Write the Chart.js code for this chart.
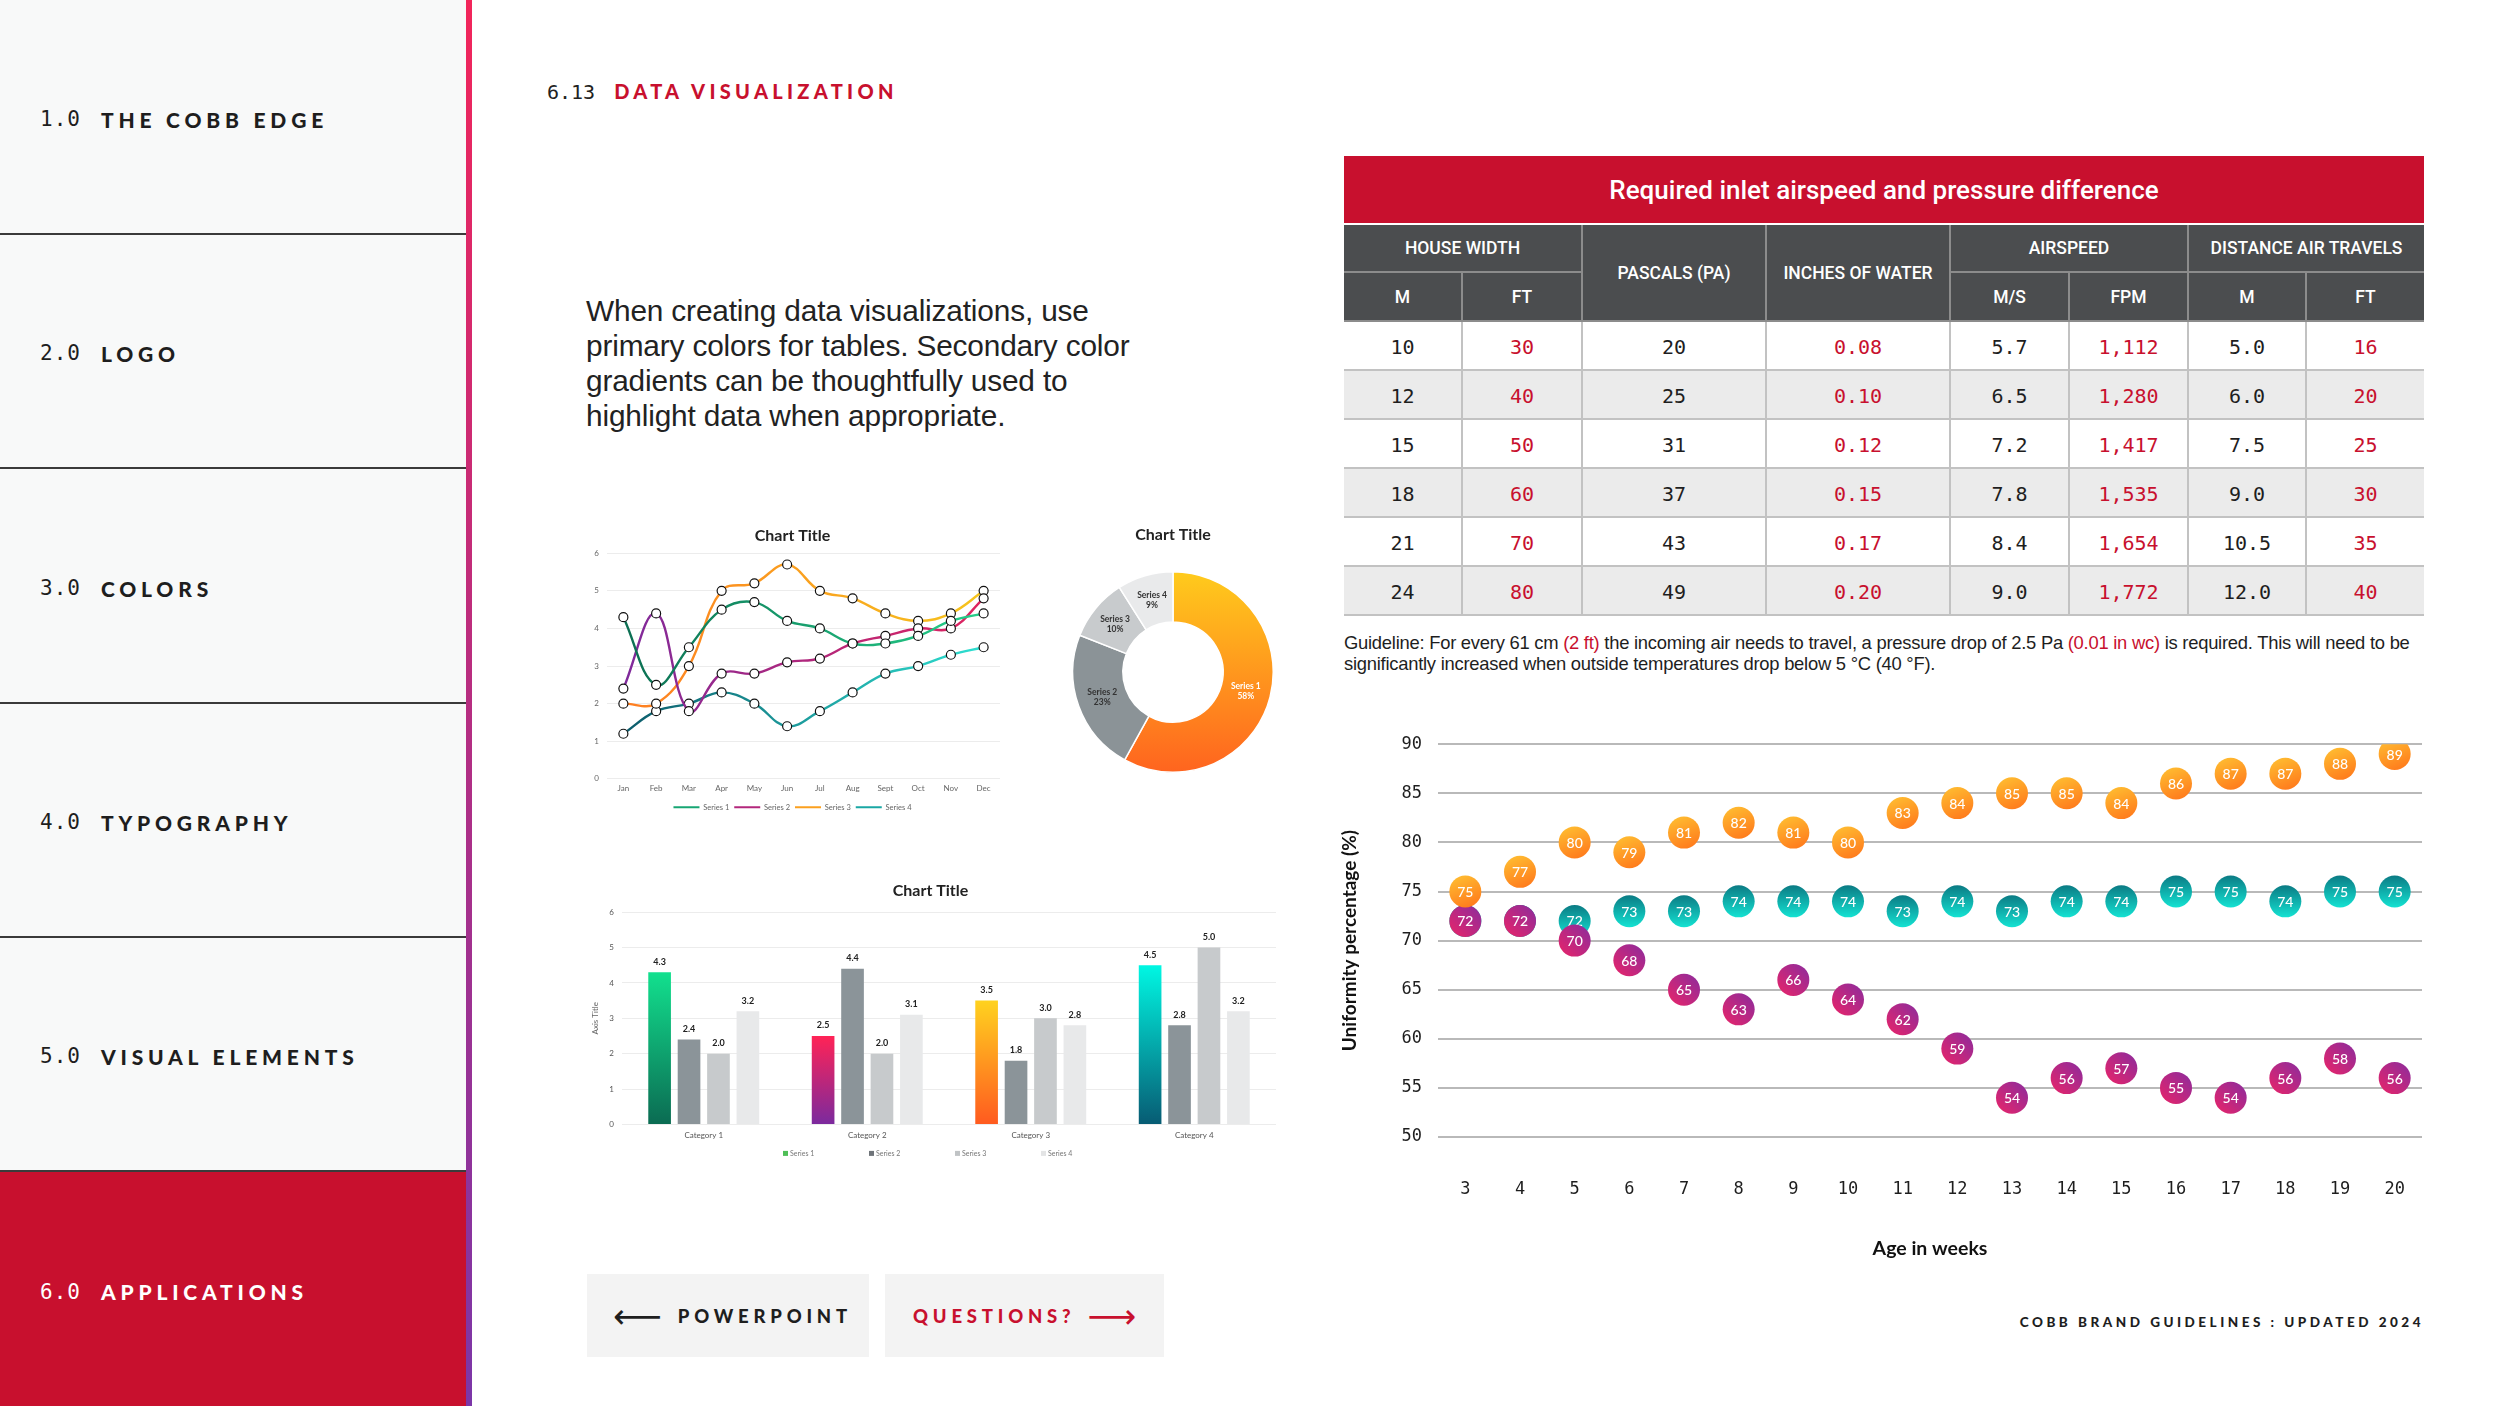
<!DOCTYPE html>
<html lang="en">
<head>
<meta charset="UTF-8">
<title>COBB - 6.13 Data Visualization</title>
<script src="https://cdn.jsdelivr.net/npm/chart.js"></script>
<style>
    body { margin: 0; width: 2500px; height: 1406px; position: relative; overflow: hidden; background: #fff; color: #222; font-family: "Liberation Sans", Arial, sans-serif; }
    .side { position: absolute; left: 0; top: 0; width: 466px; height: 1406px; background: #f8f9f9; }
    .item { position: absolute; left: 0; width: 466px; height: 235px; box-sizing: border-box; border-bottom: 2px solid #3b3b3b; display: flex; align-items: center; padding-left: 40px; padding-top: 5px; font-size: 21px; color: #1e1e1e; }
    .item.active { background: #c8102e; color: #fff; border-bottom: none; }
    .num { font-family: "DejaVu Sans Mono", monospace; letter-spacing: 1px; margin-right: 20px; }
    .lbl { font-family: Lato, sans-serif; font-weight: 900; letter-spacing: 4.8px; }
    .accent { position: absolute; left: 466px; top: 0; width: 6px; height: 1406px; background: linear-gradient(#f2255a, #7b36a8); }
    .head { position: absolute; left: 547px; top: 79px; font-size: 20px; white-space: nowrap; }
    .head .n { font-family: "DejaVu Sans Mono", monospace; color: #222; margin-right: 19px; }
    .head .t { font-family: Lato, sans-serif; font-weight: 900; color: #c8102e; letter-spacing: 4.3px; }
    .intro { position: absolute; left: 586px; top: 293px; font-size: 29.8px; line-height: 35px; color: #222; white-space: nowrap; letter-spacing: -0.15px; }
    .box { position: absolute; }
    .btn { position: absolute; top: 1274px; height: 83px; background: #f3f3f3; display: flex; align-items: center; font-family: Lato, sans-serif; font-weight: 900; font-size: 18.5px; letter-spacing: 4.8px; white-space: nowrap; }
    .arrow { font-family: "DejaVu Sans", sans-serif; font-weight: normal; font-size: 34px; letter-spacing: 0; line-height: 1; }
    .foot { position: absolute; right: 76px; top: 1314px; font-family: Lato, sans-serif; font-weight: 900; font-size: 13.5px; letter-spacing: 3.5px; color: #1e1e1e; white-space: nowrap; }
    .tabtitle { position: absolute; left: 1344px; top: 156px; width: 1080px; height: 67px; background: #c8102e; color: #fff; font-family: Roboto, sans-serif; font-weight: 500; font-size: 26px; display: flex; align-items: center; justify-content: center; }
    #airTable { position: absolute; left: 1344px; top: 225px; width: 1080px; border-collapse: collapse; table-layout: fixed; }
    #airTable th { background: #4b4d4f; color: #fff; font-family: Roboto, sans-serif; font-weight: 500; font-size: 17.5px; border: 2px solid #8c8c8c; padding: 0; }
    #airTable tr.h1 th { height: 46px; border-top: none; }
    #airTable tr.h2 th { height: 47px; }
    #airTable td { height: 44px; padding: 3px 0 0 0; text-align: center; font-family: "DejaVu Sans Mono", monospace; font-size: 20px; color: #1e1e1e; border: 2px solid #c2c2c2; }
    #airTable tr:nth-child(even) td { background: #ebebeb; }
    #airTable td.red { color: #c8102e; }
    #airTable th:first-child, #airTable td:first-child { border-left: none; }
    #airTable th:last-child, #airTable td:last-child { border-right: none; }
    .note { position: absolute; left: 1344px; top: 632px; font-size: 18.4px; line-height: 21px; color: #1e1e1e; white-space: nowrap; letter-spacing: -0.25px; }
    .note .red { color: #c8102e; }
</style>
</head>
<body>

<div class="side">
    <div class="item" style="top:0"><span class="num">1.0</span><span class="lbl">THE COBB EDGE</span></div>
    <div class="item" style="top:234px"><span class="num">2.0</span><span class="lbl">LOGO</span></div>
    <div class="item" style="top:469px"><span class="num">3.0</span><span class="lbl">COLORS</span></div>
    <div class="item" style="top:703px"><span class="num">4.0</span><span class="lbl">TYPOGRAPHY</span></div>
    <div class="item" style="top:937px"><span class="num">5.0</span><span class="lbl">VISUAL ELEMENTS</span></div>
    <div class="item active" style="top:1172px; height:234px"><span class="num">6.0</span><span class="lbl">APPLICATIONS</span></div>
</div>
<div class="accent"></div>

<div class="head"><span class="n">6.13</span><span class="t">DATA VISUALIZATION</span></div>

<div class="intro">When creating data visualizations, use<br>primary colors for tables. Secondary color<br>gradients can be thoughtfully used to<br>highlight data when appropriate.</div>

<div class="box" style="left:585px; top:513px; width:430px; height:310px;"><canvas id="lineChart"></canvas></div>
<div class="box" style="left:1065px; top:515px; width:216px; height:275px;"><canvas id="donutChart"></canvas></div>
<div class="box" style="left:585px; top:870px; width:700px; height:300px;"><canvas id="barChart"></canvas></div>

<div class="btn" style="left:587px; width:282px; color:#1e1e1e;"><span class="arrow" style="margin-left:26px; margin-right:16px;">&#10229;</span>POWERPOINT</div>
<div class="btn" style="left:885px; width:279px; color:#c8102e;"><span style="margin-left:28px; margin-right:12px;">QUESTIONS?</span><span class="arrow">&#10230;</span></div>

<div class="foot">COBB BRAND GUIDELINES : UPDATED 2024</div>

<div class="tabtitle">Required inlet airspeed and pressure difference</div>
<table id="airTable">
    <colgroup>
        <col style="width:118px"><col style="width:120px"><col style="width:184px"><col style="width:184px">
        <col style="width:119px"><col style="width:119px"><col style="width:118px"><col style="width:118px">
    </colgroup>
    <thead>
        <tr class="h1"><th colspan="2">HOUSE WIDTH</th><th rowspan="2">PASCALS (PA)</th><th rowspan="2">INCHES OF WATER</th><th colspan="2">AIRSPEED</th><th colspan="2">DISTANCE AIR TRAVELS</th></tr>
        <tr class="h2"><th>M</th><th>FT</th><th>M/S</th><th>FPM</th><th>M</th><th>FT</th></tr>
    </thead>
    <tbody id="airBody"></tbody>
</table>

<div class="note">Guideline: For every 61 cm <span class="red">(2 ft)</span> the incoming air needs to travel, a pressure drop of 2.5 Pa <span class="red">(0.01 in wc)</span> is required. This will need to be<br>significantly increased when outside temperatures drop below 5 °C (40 °F).</div>

<div class="box" style="left:1335px; top:718px; width:1103px; height:557px;"><canvas id="uniformityChart"></canvas></div>

<script>
    // ---- table data ----
    const houseM = ['10', '12', '15', '18', '21', '24'];
    const houseFt = ['30', '40', '50', '60', '70', '80'];
    const pascals = ['20', '25', '31', '37', '43', '49'];
    const inchesWater = ['0.08', '0.10', '0.12', '0.15', '0.17', '0.20'];
    const airMs = ['5.7', '6.5', '7.2', '7.8', '8.4', '9.0'];
    const airFpm = ['1,112', '1,280', '1,417', '1,535', '1,654', '1,772'];
    const distM = ['5.0', '6.0', '7.5', '9.0', '10.5', '12.0'];
    const distFt = ['16', '20', '25', '30', '35', '40'];

    // ---- uniformity chart data ----
    const weeks = ['3', '4', '5', '6', '7', '8', '9', '10', '11', '12', '13', '14', '15', '16', '17', '18', '19', '20'];
    const upperUniformity = [75, 77, 80, 79, 81, 82, 81, 80, 83, 84, 85, 85, 84, 86, 87, 87, 88, 89];
    const middleUniformity = [72, 72, 72, 73, 73, 74, 74, 74, 73, 74, 73, 74, 74, 75, 75, 74, 75, 75];
    const lowerUniformity = [72, 72, 70, 68, 65, 63, 66, 64, 62, 59, 54, 56, 57, 55, 54, 56, 58, 56];
    const uniformityMin = 50;
    const uniformityMax = 90;
    const uniformityStep = 5;

    // ---- sample line chart data ----
    const months = ['Jan', 'Feb', 'Mar', 'Apr', 'May', 'Jun', 'Jul', 'Aug', 'Sept', 'Oct', 'Nov', 'Dec'];
    const lineSeries1 = [4.3, 2.5, 3.5, 4.5, 4.7, 4.2, 4.0, 3.6, 3.6, 3.8, 4.2, 4.4];
    const lineSeries2 = [2.4, 4.4, 1.8, 2.8, 2.8, 3.1, 3.2, 3.6, 3.8, 4.0, 4.0, 4.8];
    const lineSeries3 = [2.0, 2.0, 3.0, 5.0, 5.2, 5.7, 5.0, 4.8, 4.4, 4.2, 4.4, 5.0];
    const lineSeries4 = [1.2, 1.8, 2.0, 2.3, 2.0, 1.4, 1.8, 2.3, 2.8, 3.0, 3.3, 3.5];

    // ---- sample doughnut data ----
    const donutLabels = ['Series 1', 'Series 2', 'Series 3', 'Series 4'];
    const donutValues = [58, 23, 10, 9];

    // ---- sample bar chart data ----
    const barCategories = ['Category 1', 'Category 2', 'Category 3', 'Category 4'];
    const barSeries1 = [4.3, 2.5, 3.5, 4.5];
    const barSeries2 = [2.4, 4.4, 1.8, 2.8];
    const barSeries3 = [2.0, 2.0, 3.0, 5.0];
    const barSeries4 = [3.2, 3.1, 2.8, 3.2];

    // build table body
    const redCols = [1, 3, 5, 7];
    const airBody = document.getElementById('airBody');
    houseM.forEach((m, i) => {
        const cells = [m, houseFt[i], pascals[i], inchesWater[i], airMs[i], airFpm[i], distM[i], distFt[i]];
        const tr = document.createElement('tr');
        cells.forEach((v, c) => {
            const td = document.createElement('td');
            td.textContent = v;
            if (redCols.includes(c)) td.className = 'red';
            tr.appendChild(td);
        });
        airBody.appendChild(tr);
    });

    Chart.defaults.font.family = 'Lato, sans-serif';
    Chart.defaults.animation = false;
    Chart.defaults.events = [];
    Chart.defaults.plugins.tooltip.enabled = false;

    // ---------------- uniformity chart ----------------
    const BUBBLE_R = 16;

    function bubbleFill(from, to, dx) {
        return function (c) {
            const chart = c.chart;
            if (c.type !== 'data' || !chart.chartArea) return to;
            const x = chart.scales.x.getPixelForValue(c.parsed.x);
            const y = chart.scales.y.getPixelForValue(c.parsed.y);
            const g = chart.ctx.createLinearGradient(x + dx * BUBBLE_R, y - BUBBLE_R, x - dx * BUBBLE_R, y + BUBBLE_R);
            g.addColorStop(0, from);
            g.addColorStop(1, to);
            return g;
        };
    }

    const bubbleLabels = {
        id: 'bubbleLabels',
        afterDatasetDraw(chart, args) {
            const ds = chart.data.datasets[args.index];
            const ctx = chart.ctx;
            ctx.save();
            ctx.fillStyle = '#fff';
            ctx.font = '500 14px Lato';
            ctx.textAlign = 'center';
            ctx.textBaseline = 'middle';
            args.meta.data.forEach((pt, i) => ctx.fillText(ds.data[i], pt.x, pt.y + 1));
            ctx.restore();
        }
    };

    const pointStyleOpts = { showLine: false, pointRadius: BUBBLE_R, pointBorderWidth: 0, pointHoverRadius: BUBBLE_R };

    new Chart(document.getElementById('uniformityChart'), {
        type: 'line',
        data: {
            labels: weeks,
            datasets: [
                Object.assign({ label: 'Upper', data: upperUniformity, pointBackgroundColor: bubbleFill('#ffbb30', '#ff7a1c', -0.4) }, pointStyleOpts),
                Object.assign({ label: 'Lower', data: lowerUniformity, pointBackgroundColor: bubbleFill('#8a2c9e', '#ea2468', 1) }, pointStyleOpts),
                Object.assign({ label: 'Middle', data: middleUniformity, pointBackgroundColor: bubbleFill('#0b7b84', '#14e2d2', 0) }, pointStyleOpts)
            ]
        },
        options: {
            responsive: true,
            maintainAspectRatio: false,
            layout: { padding: { top: 23, right: 2, bottom: 0, left: 0 } },
            plugins: { legend: { display: false } },
            scales: {
                x: {
                    type: 'category',
                    offset: true,
                    grid: { display: false, drawTicks: false },
                    border: { display: false },
                    ticks: { padding: 42, color: '#1e1e1e', font: { family: 'DejaVu Sans Mono', size: 17 } },
                    title: { display: true, text: 'Age in weeks', color: '#111', font: { family: 'Lato', weight: 'bold', size: 19.5 }, padding: { bottom: 15 } },
                    afterFit(s) { s.height = 138; s.paddingLeft = 0; s.paddingRight = 0; }
                },
                y: {
                    min: uniformityMin,
                    max: uniformityMax,
                    grid: { color: '#b9b9b9', lineWidth: 2, drawTicks: false },
                    border: { display: false },
                    ticks: { stepSize: uniformityStep, padding: 16, color: '#1e1e1e', font: { family: 'DejaVu Sans Mono', size: 17 } },
                    title: { display: true, text: 'Uniformity percentage (%)', color: '#111', font: { family: 'Lato', weight: 'bold', size: 19 }, padding: { top: 3 } },
                    afterFit(s) { s.width = 103; }
                }
            }
        },
        plugins: [bubbleLabels]
    });

    // ---------------- sample line chart ----------------
    const lineFrom = ['#0b6a50', '#7a2a9e', '#ff7a22', '#0b5566'];
    const lineTo = ['#26d48c', '#e4245c', '#f5c81c', '#30e6d6'];
    const lineMid = ['#17a673', '#b3277c', '#fba01f', '#1aa7a4'];

    function lineGradient(from, to) {
        return function (c) {
            const area = c.chart.chartArea;
            if (!area) return to;
            const g = c.chart.ctx.createLinearGradient(area.left, 0, area.right, 0);
            g.addColorStop(0, from);
            g.addColorStop(1, to);
            return g;
        };
    }

    const lineData = [lineSeries1, lineSeries2, lineSeries3, lineSeries4];
    new Chart(document.getElementById('lineChart'), {
        type: 'line',
        data: {
            labels: months,
            datasets: lineData.map((d, i) => ({
                label: 'Series ' + (i + 1),
                data: d,
                borderColor: lineGradient(lineFrom[i], lineTo[i]),
                borderWidth: 2.4,
                tension: 0.4,
                pointRadius: 4.5,
                pointBackgroundColor: '#fff',
                pointBorderColor: '#111',
                pointBorderWidth: 1.2
            }))
        },
        options: {
            responsive: true,
            maintainAspectRatio: false,
            layout: { padding: { top: 5, right: 15, bottom: 2, left: 0 } },
            plugins: {
                title: { display: true, text: 'Chart Title', color: '#222', font: { size: 16, weight: 'bold' }, padding: { top: 8, bottom: 8 } },
                legend: {
                    position: 'bottom',
                    labels: {
                        boxWidth: 26, boxHeight: 2, padding: 5, color: '#666', font: { size: 7.5 },
                        generateLabels: () => lineMid.map((col, i) => ({ text: 'Series ' + (i + 1), fillStyle: col, strokeStyle: col, lineWidth: 0, datasetIndex: i, fontColor: '#666' }))
                    }
                }
            },
            scales: {
                x: {
                    offset: true,
                    grid: { display: false, drawTicks: false },
                    border: { display: false },
                    ticks: { padding: 5, color: '#666', font: { size: 8 } }
                },
                y: {
                    min: 0, max: 6,
                    grid: { color: '#ececec', drawTicks: false },
                    border: { display: false },
                    ticks: { stepSize: 1, padding: 8, color: '#666', font: { size: 8 } },
                    afterFit(s) { s.width = 22; }
                }
            }
        }
    });

    // ---------------- sample doughnut ----------------
    const donutColors = [null, '#8b9397', '#c8cbcd', '#e9eaeb'];
    const donutText = ['#ffffff', '#333333', '#333333', '#333333'];

    const donutLabelPlugin = {
        id: 'donutLabels',
        afterDatasetsDraw(chart) {
            const ctx = chart.ctx;
            const meta = chart.getDatasetMeta(0);
            ctx.save();
            ctx.font = 'bold 8.5px Lato';
            ctx.textAlign = 'center';
            ctx.textBaseline = 'middle';
            meta.data.forEach((arc, i) => {
                const p = arc.tooltipPosition();
                ctx.fillStyle = donutText[i];
                ctx.fillText(donutLabels[i], p.x, p.y - 5);
                ctx.fillText(donutValues[i] + '%', p.x, p.y + 5);
            });
            ctx.restore();
        }
    };

    new Chart(document.getElementById('donutChart'), {
        type: 'doughnut',
        data: {
            labels: donutLabels,
            datasets: [{
                data: donutValues,
                backgroundColor(c) {
                    const area = c.chart.chartArea;
                    if (c.dataIndex !== 0) return donutColors[c.dataIndex];
                    if (!area) return '#ffa81e';
                    const g = c.chart.ctx.createLinearGradient(0, area.top, 0, area.bottom);
                    g.addColorStop(0, '#ffd41c');
                    g.addColorStop(1, '#ff5b1f');
                    return g;
                },
                borderColor: '#fff',
                borderWidth: 1.5,
                cutout: '50%'
            }]
        },
        options: {
            responsive: true,
            maintainAspectRatio: false,
            layout: { padding: { left: 7, right: 7, top: 0, bottom: 0 } },
            plugins: {
                title: { display: true, text: 'Chart Title', color: '#222', font: { size: 16, weight: 'bold' }, padding: { top: 10, bottom: 10 } },
                legend: { display: false }
            }
        },
        plugins: [donutLabelPlugin]
    });

    // ---------------- sample bar chart ----------------
    const s1Top = ['#12e08e', '#ff2356', '#ffd21f', '#00f7e3'];
    const s1Bottom = ['#0b6b52', '#7b2a9e', '#ff5a1f', '#075b73'];
    const barLegendColors = ['#4fbf57', '#6f7479', '#c0c3c5', '#e3e4e5'];

    const barValueLabels = {
        id: 'barValues',
        afterDatasetsDraw(chart) {
            const ctx = chart.ctx;
            ctx.save();
            ctx.font = 'bold 9px Lato';
            ctx.fillStyle = '#222';
            ctx.textAlign = 'center';
            ctx.textBaseline = 'bottom';
            chart.data.datasets.forEach((ds, di) => {
                chart.getDatasetMeta(di).data.forEach((bar, i) => {
                    ctx.fillText(ds.data[i].toFixed(1), bar.x, bar.y - 6);
                });
            });
            ctx.restore();
        }
    };

    // small legend row under the category axis, items spaced out like the reference
    const barLegend = {
        id: 'barLegend',
        afterDraw(chart) {
            const ctx = chart.ctx;
            const area = chart.chartArea;
            const cx = (area.left + area.right) / 2;
            const y = area.bottom + 29;
            ctx.save();
            ctx.font = '7px Lato';
            ctx.textBaseline = 'middle';
            ctx.textAlign = 'left';
            chart.data.datasets.forEach((ds, i) => {
                const x = cx - 166 + i * 86;
                ctx.fillStyle = barLegendColors[i];
                ctx.fillRect(x, y - 2.5, 5, 5);
                ctx.fillStyle = '#777';
                ctx.fillText(ds.label, x + 7, y);
            });
            ctx.restore();
        }
    };

    new Chart(document.getElementById('barChart'), {
        type: 'bar',
        data: {
            labels: barCategories,
            datasets: [
                {
                    label: 'Series 1',
                    data: barSeries1,
                    backgroundColor(c) {
                        const chart = c.chart;
                        const area = chart.chartArea;
                        if (c.type !== 'data' || !area) return s1Top[0];
                        const top = chart.scales.y.getPixelForValue(c.raw);
                        const g = chart.ctx.createLinearGradient(0, top, 0, area.bottom);
                        g.addColorStop(0, s1Top[c.dataIndex]);
                        g.addColorStop(1, s1Bottom[c.dataIndex]);
                        return g;
                    }
                },
                { label: 'Series 2', data: barSeries2, backgroundColor: '#8b9499' },
                { label: 'Series 3', data: barSeries3, backgroundColor: '#c7cacc' },
                { label: 'Series 4', data: barSeries4, backgroundColor: '#e8e9ea' }
            ]
        },
        options: {
            responsive: true,
            maintainAspectRatio: false,
            categoryPercentage: 0.72,
            barPercentage: 0.77,
            layout: { padding: { top: 3, right: 9, bottom: 24, left: 0 } },
            plugins: {
                title: { display: true, text: 'Chart Title', color: '#222', font: { size: 16, weight: 'bold' }, padding: { top: 8, bottom: 12 } },
                legend: { display: false }
            },
            scales: {
                x: {
                    grid: { display: false, drawTicks: false },
                    border: { display: false },
                    ticks: { padding: 6, color: '#555', font: { size: 8 } }
                },
                y: {
                    min: 0, max: 6,
                    grid: { color: '#ececec', drawTicks: false },
                    border: { display: false },
                    ticks: { stepSize: 1, padding: 8, color: '#555', font: { size: 8 } },
                    title: { display: true, text: 'Axis Title', color: '#666', font: { size: 8 }, padding: { top: 6 } },
                    afterFit(s) { s.width = 37; }
                }
            }
        },
        plugins: [barValueLabels, barLegend]
    });
</script>
</body>
</html>
